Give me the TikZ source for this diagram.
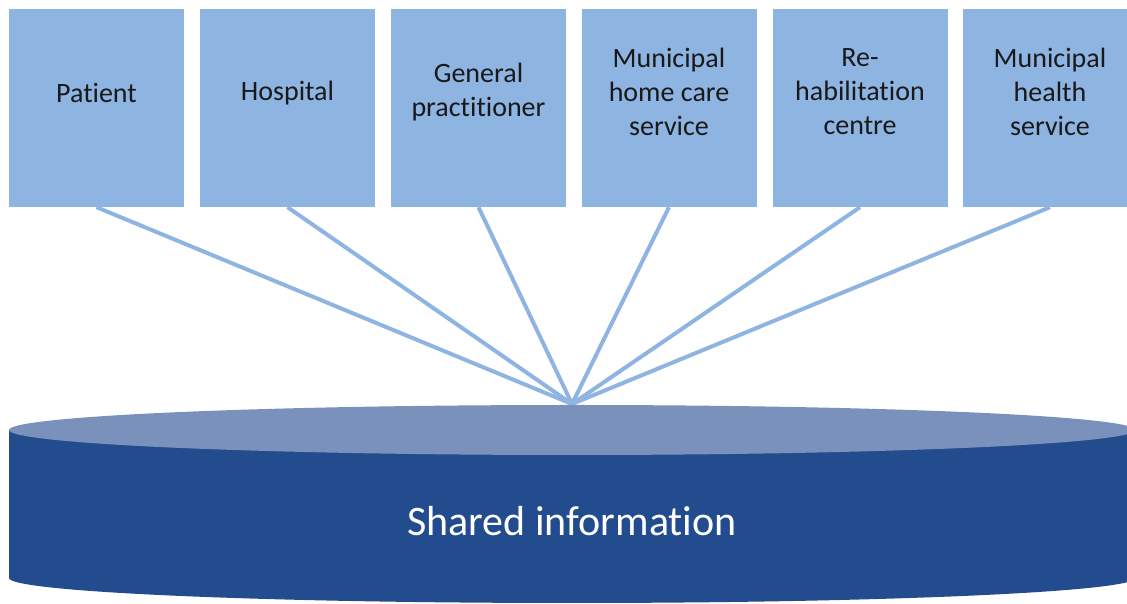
\documentclass[tikz,border=0pt]{standalone}
\usepackage{fontspec}
\setmainfont{Carlito}[Ligatures={NoCommon}]
\definecolor{boxblue}{RGB}{142,180,226}
\definecolor{toptint}{RGB}{122,146,187}
\definecolor{bodyblue}{RGB}{35,76,142}
\tikzset{
  box/.style={fill=boxblue, draw=none, minimum width=175pt, minimum height=198pt, inner sep=0pt},
  lbl/.style={align=center, font=\fontsize{28}{34}\selectfont, text=black!90, inner sep=0pt},
  link/.style={draw=boxblue, line width=4pt},
}
\begin{document}
\begin{tikzpicture}[x=1pt,y=1pt]
\useasboundingbox (0,0) rectangle (1127,604);
% boxes (centres, y-up: box from 397 to 595)
\node[box] (b1) at (96.5,496) {};
\node[box] (b2) at (287.5,496) {};
\node[box] (b3) at (478.5,496) {};
\node[box] (b4) at (669,496) {};
\node[box] (b5) at (860,496) {};
\node[box] (b6) at (1050,496) {};
\node[lbl] (t1) at (96.5,511) {Patient};
\node[lbl] (t2) at (287.5,511) {Hospital};
\node[lbl] (t3) at (478.5,512) {General\\practitioner};
\node[lbl] (t4) at (669,512) {Municipal\\home care\\service};
\node[lbl] (t5) at (860,512) {Re-\\habilitation\\centre};
\node[lbl] (t6) at (1050,512) {Municipal\\health\\service};
\coordinate (hub) at (572,200);
\foreach \b in {b1,b2,b3,b4,b5,b6}{
  \draw[link] (\b.south) -- (hub);
}
% cylinder
\fill[bodyblue] (9,174) -- (9,26) arc[start angle=180,end angle=360,x radius=563,y radius=25] -- (1135,174) -- cycle;
\fill[toptint] (572,174) ellipse [x radius=563, y radius=25];
\node[text=white, font=\fontsize{42}{50}\selectfont, inner sep=0pt] (shared) at (572,83) {Shared information};
\end{tikzpicture}
\end{document}
